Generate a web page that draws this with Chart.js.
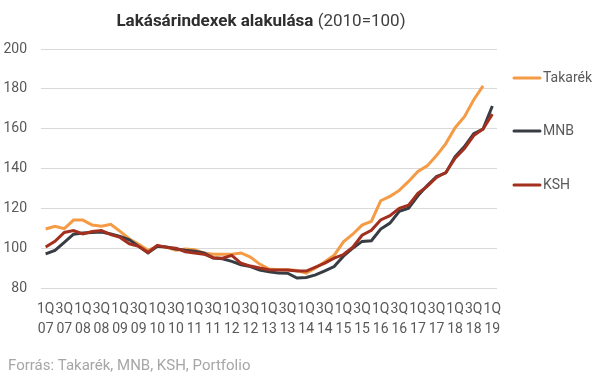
<!DOCTYPE html>
<html lang="hu">
<head>
    <meta charset="UTF-8">
    <title>Lakásárindexek alakulása</title>
    <script src="https://cdn.jsdelivr.net/npm/chart.js"></script>
    <style>
        html, body {
            margin: 0;
            padding: 0;
            background: #ffffff;
        }
        .chart-box {
            position: relative;
            width: 605px;
            height: 379px;
        }
    </style>
</head>
<body>
    <div class="chart-box">
        <canvas id="housingChart" width="605" height="379"></canvas>
    </div>

    <script>
        // Quarters 1Q07 .. 1Q19
        const quarters = [
            '1Q 07', '2Q 07', '3Q 07', '4Q 07',
            '1Q 08', '2Q 08', '3Q 08', '4Q 08',
            '1Q 09', '2Q 09', '3Q 09', '4Q 09',
            '1Q 10', '2Q 10', '3Q 10', '4Q 10',
            '1Q 11', '2Q 11', '3Q 11', '4Q 11',
            '1Q 12', '2Q 12', '3Q 12', '4Q 12',
            '1Q 13', '2Q 13', '3Q 13', '4Q 13',
            '1Q 14', '2Q 14', '3Q 14', '4Q 14',
            '1Q 15', '2Q 15', '3Q 15', '4Q 15',
            '1Q 16', '2Q 16', '3Q 16', '4Q 16',
            '1Q 17', '2Q 17', '3Q 17', '4Q 17',
            '1Q 18', '2Q 18', '3Q 18', '4Q 18',
            '1Q 19'
        ];

        const takarek = [
            109.6, 111.0, 109.8, 114.1, 114.1, 111.6, 111.0, 112.0,
            108.4, 104.6, 101.9, 98.9, 101.0, 100.4, 99.0, 99.6,
            99.2, 97.6, 97.0, 97.0, 97.0, 97.6, 95.5, 92.0,
            89.5, 89.2, 89.2, 88.8, 87.5, 90.0, 93.2, 96.4,
            103.2, 107.0, 111.6, 113.5, 123.8, 126.0, 129.0, 133.5,
            138.5, 141.3, 146.5, 152.5, 160.5, 166.0, 174.5, 181.5,
            null
        ];

        const mnb = [
            97.1, 98.9, 102.9, 107.0, 107.6, 107.9, 108.1, 107.1,
            105.9, 104.2, 100.9, 97.6, 100.9, 100.6, 99.6, 98.9,
            98.4, 97.6, 95.1, 94.7, 93.4, 91.7, 90.8, 89.0,
            88.1, 87.5, 87.4, 85.0, 85.3, 86.6, 88.6, 90.8,
            96.0, 100.0, 103.4, 103.7, 109.6, 112.6, 118.5, 120.1,
            126.3, 131.5, 136.0, 137.8, 146.0, 151.0, 157.5, 159.8,
            171.4
        ];

        const ksh = [
            100.6, 103.4, 107.9, 108.8, 107.1, 108.4, 108.9, 106.8,
            105.4, 102.2, 100.9, 97.9, 101.4, 100.4, 100.0, 98.2,
            97.6, 97.0, 95.2, 95.0, 96.4, 92.4, 91.0, 90.0,
            89.2, 89.0, 89.0, 88.5, 88.5, 90.5, 92.5, 95.0,
            96.8, 100.5, 106.5, 109.0, 114.2, 116.3, 120.0, 121.6,
            127.5, 131.0, 135.5, 138.0, 145.2, 150.0, 156.5, 159.8,
            167.3
        ];

        const seriesNames = ['Takarék', 'MNB', 'KSH'];
        const seriesColors = ['#f59a45', '#383d44', '#a3301f'];

        const sourceNote = 'Forrás: Takarék, MNB, KSH, Portfolio';

        // title, side legend and source line drawn straight on the canvas
        const decorPlugin = {
            id: 'decor',
            afterDraw(chart) {
                const ctx = chart.ctx;
                ctx.save();

                // title: bold part + normal part, centred over the plot
                const boldPart = 'Lakásárindexek alakulása';
                const normalPart = ' (2010=100)';
                ctx.textBaseline = 'middle';
                ctx.font = 'bold 17px Roboto';
                const w1 = ctx.measureText(boldPart).width;
                ctx.font = '17px Roboto';
                const w2 = ctx.measureText(normalPart).width;
                let tx = 261 - (w1 + w2) / 2;
                ctx.fillStyle = '#2e2e2e';
                ctx.font = 'bold 17px Roboto';
                ctx.fillText(boldPart, tx, 22);
                ctx.fillStyle = '#404040';
                ctx.font = '17px Roboto';
                ctx.fillText(normalPart, tx + w1, 22);

                // legend, in Takarék / MNB / KSH order
                const legendY = [78, 131, 185];
                ctx.font = '14px Roboto';
                seriesNames.forEach((name, i) => {
                    const y = legendY[i];
                    ctx.strokeStyle = seriesColors[i];
                    ctx.lineWidth = 3;
                    ctx.lineCap = 'round';
                    ctx.beginPath();
                    ctx.moveTo(514, y);
                    ctx.lineTo(540, y);
                    ctx.stroke();
                    ctx.fillStyle = '#595959';
                    ctx.fillText(name, 543, y);
                });

                // source
                ctx.font = '15px Roboto';
                ctx.fillStyle = '#a6a6a6';
                ctx.fillText(sourceNote, 8, 366);

                ctx.restore();
            }
        };

        const ctx = document.getElementById('housingChart').getContext('2d');

        new Chart(ctx, {
            type: 'line',
            data: {
                labels: quarters,
                datasets: [takarek, mnb, ksh].map((values, i) => ({
                    label: seriesNames[i],
                    data: values,
                    borderColor: seriesColors[i],
                    backgroundColor: seriesColors[i],
                    borderWidth: 3,
                    pointRadius: 0,
                    tension: 0,
                    fill: false
                })).reverse()
            },
            options: {
                responsive: false,
                animation: false,
                layout: {
                    padding: { left: 0, right: 108, top: 49, bottom: 21 }
                },
                plugins: {
                    legend: { display: false },
                    title: { display: false },
                    tooltip: { enabled: false }
                },
                scales: {
                    x: {
                        type: 'category',
                        offset: true,
                        grid: { display: false },
                        border: { display: false },
                        afterFit: scale => { scale.height = 70; },
                        ticks: {
                            autoSkip: false,
                            maxRotation: 0,
                            minRotation: 0,
                            padding: 4,
                            color: '#595959',
                            font: { family: 'Roboto', size: 14, lineHeight: 1.4 },
                            callback: function (value, index) {
                                if (index % 2 !== 0) return '';
                                return this.getLabelForValue(value).split(' ');
                            }
                        }
                    },
                    y: {
                        min: 80,
                        max: 200,
                        afterFit: scale => { scale.width = 41; },
                        grid: {
                            color: '#d9d9d9',
                            lineWidth: 1,
                            drawTicks: false
                        },
                        border: { display: false },
                        ticks: {
                            stepSize: 20,
                            padding: 14,
                            color: '#595959',
                            font: { family: 'Roboto', size: 14 }
                        }
                    }
                }
            },
            plugins: [decorPlugin]
        });
    </script>
</body>
</html>
